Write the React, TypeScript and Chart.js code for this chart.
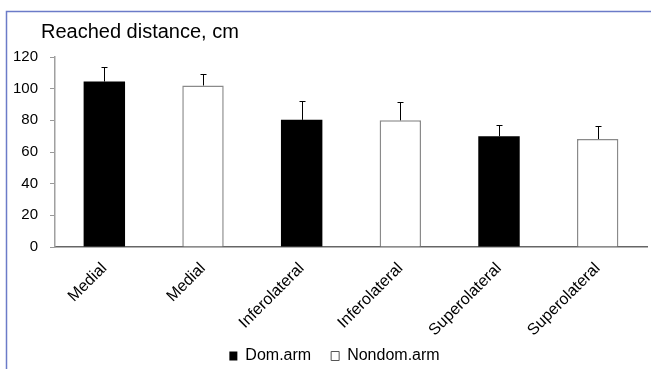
import React, { useEffect, useRef } from "react";
import { Chart, registerables } from "chart.js";

Chart.register(...registerables);

const categories = ["Medial", "Medial", "Inferolateral", "Inferolateral", "Superolateral", "Superolateral"];
const means = [104.5, 102, 80.3, 80, 70, 68.2];
const errors = [9.5, 7.3, 12, 11.5, 7, 8];
const armGroup = ["Dom.arm", "Nondom.arm", "Dom.arm", "Nondom.arm", "Dom.arm", "Nondom.arm"];
const legendNames = ["Dom.arm", "Nondom.arm"];
const yTicks = [0, 20, 40, 60, 80, 100, 120];
const titleText = "Reached distance, cm";

const FONT = "'Liberation Sans', Arial, sans-serif";

const noLabelClip = (s: any) => {
  s._computeLabelArea = () => undefined;
};

export default function App() {
  const ref = useRef<HTMLCanvasElement | null>(null);

  useEffect(() => {
    if (!ref.current) return;
    const fills = armGroup.map((g) => (g === legendNames[0] ? "#000000" : "#ffffff"));
    const borders = armGroup.map((g) => (g === legendNames[0] ? "#000000" : "#8a8a8a"));
    const bw = armGroup.map((g) => (g === legendNames[0] ? 0 : 1.5));

    const framePlugin = {
      id: "frame",
      beforeDraw(chart: any) {
        const ctx = chart.ctx;
        ctx.save();
        ctx.fillStyle = "#ffffff";
        ctx.fillRect(0, 0, chart.width, chart.height);
        ctx.strokeStyle = "#6b7bc8";
        ctx.lineWidth = 1.5;
        ctx.beginPath();
        ctx.moveTo(6.5, chart.height);
        ctx.lineTo(6.5, 11.5);
        ctx.lineTo(chart.width, 11.5);
        ctx.stroke();
        ctx.fillStyle = "#000000";
        ctx.font = `20px ${FONT}`;
        ctx.textBaseline = "alphabetic";
        ctx.textAlign = "left";
        ctx.fillText(titleText, 41, 38);
        ctx.restore();
      },
    };

    const errorPlugin = {
      id: "errorbars",
      afterDatasetsDraw(chart: any) {
        const ctx = chart.ctx;
        const meta = chart.getDatasetMeta(0);
        const ys = chart.scales.y;
        ctx.save();
        ctx.strokeStyle = "#000000";
        ctx.lineWidth = 1;
        meta.data.forEach((el: any, i: number) => {
          const x = Math.round(el.x) + 0.5;
          const yb = el.y;
          const yt = Math.round(ys.getPixelForValue(means[i] + errors[i])) + 0.5;
          ctx.beginPath();
          ctx.moveTo(x, yb);
          ctx.lineTo(x, yt);
          ctx.moveTo(x - 3, yt);
          ctx.lineTo(x + 3, yt);
          ctx.stroke();
        });
        ctx.restore();
      },
    };

    const chart = new Chart(ref.current, {
      type: "bar",
      data: {
        labels: categories,
        datasets: [
          {
            data: means,
            backgroundColor: fills,
            borderColor: borders,
            borderWidth: bw,
            barPercentage: 0.84,
            categoryPercentage: 0.5,
          },
        ],
      },
      options: {
        responsive: false,
        maintainAspectRatio: false,
        animation: false,
        layout: { padding: { left: 22, top: 57, right: 4, bottom: -5 } },
        plugins: {
          title: { display: false },
          tooltip: { enabled: false },
          legend: {
            display: true,
            position: "bottom",
            onClick: () => {},
            labels: {
              color: "#000000",
              font: { family: FONT, size: 16 },
              boxWidth: 8,
              boxHeight: 9,
              padding: 20,
              generateLabels: () =>
                legendNames.map((n, i) => ({
                  text: n,
                  fillStyle: i === 0 ? "#000000" : "#ffffff",
                  strokeStyle: i === 0 ? "#000000" : "#555555",
                  lineWidth: i === 0 ? 0 : 1,
                  hidden: false,
                  datasetIndex: 0,
                  fontColor: "#000000",
                })),
            },
          },
        },
        scales: {
          x: {
            afterFit: (s: any) => {
              s.height = 81;
            },
            afterUpdate: noLabelClip,
            grid: { display: false, drawTicks: false },
            border: { display: true, color: "#666666", width: 1.5 },
            ticks: {
              color: "#000000",
              font: { family: FONT, size: 16 },
              minRotation: 45,
              maxRotation: 45,
              autoSkip: false,
              padding: 12,
            },
          },
          y: {
            min: 0,
            max: 120,
            afterFit: (s: any) => {
              s.width = 33;
            },
            afterUpdate: noLabelClip,
            afterBuildTicks: (s: any) => {
              s.ticks = yTicks.map((v) => ({ value: v }));
            },
            grid: {
              display: true,
              drawOnChartArea: false,
              drawTicks: true,
              tickLength: 5,
              color: "#999999",
              lineWidth: 1,
            },
            border: { display: true, color: "#a0a0a0", width: 1.5 },
            ticks: {
              color: "#000000",
              font: { family: FONT, size: 15 },
              padding: 12,
            },
          },
        },
      },
      plugins: [framePlugin, errorPlugin],
    });
    return () => chart.destroy();
  }, []);

  return (
    <div style={{ position: "absolute", left: 0, top: 0, width: 651, height: 369 }}>
      <canvas ref={ref} width={651} height={369} style={{ display: "block" }} />
    </div>
  );
}
